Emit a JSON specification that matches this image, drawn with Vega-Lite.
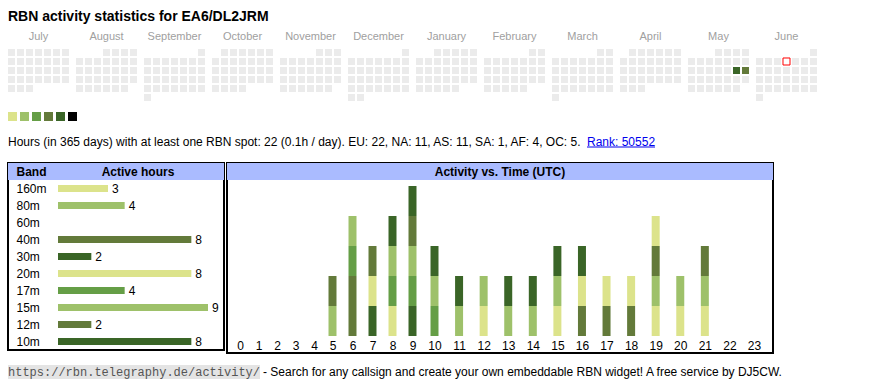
{
  "$schema": "https://vega.github.io/schema/vega-lite/v6.json",
  "background": "#ffffff",
  "padding": {"left": 7, "top": 0, "right": 0, "bottom": 0},
  "config": {"font": "Liberation Sans", "view": {"stroke": null}},
  "datasets": {
    "cal": [
      {"m":"July","w":0,"d":[0,1,2,3,4,5,6]},{"m":"July","w":1,"d":[0,1,2,3,4,5,6]},{"m":"July","w":2,"d":[0,1,2,3,4,5,6]},{"m":"July","w":3,"d":[0,1,2,3,4,5,6]},{"m":"July","w":4,"d":[0,1,2]},
      {"m":"August","w":0,"d":[3,4,5,6]},{"m":"August","w":1,"d":[0,1,2,3,4,5,6]},{"m":"August","w":2,"d":[0,1,2,3,4,5,6]},{"m":"August","w":3,"d":[0,1,2,3,4,5,6]},{"m":"August","w":4,"d":[0,1,2,3,4,5]},
      {"m":"September","w":0,"d":[6]},{"m":"September","w":1,"d":[0,1,2,3,4,5,6]},{"m":"September","w":2,"d":[0,1,2,3,4,5,6]},{"m":"September","w":3,"d":[0,1,2,3,4,5,6]},{"m":"September","w":4,"d":[0,1,2,3,4,5,6]},{"m":"September","w":5,"d":[0]},
      {"m":"October","w":0,"d":[1,2,3,4,5,6]},{"m":"October","w":1,"d":[0,1,2,3,4,5,6]},{"m":"October","w":2,"d":[0,1,2,3,4,5,6]},{"m":"October","w":3,"d":[0,1,2,3,4,5,6]},{"m":"October","w":4,"d":[0,1,2,3]},
      {"m":"November","w":0,"d":[4,5,6]},{"m":"November","w":1,"d":[0,1,2,3,4,5,6]},{"m":"November","w":2,"d":[0,1,2,3,4,5,6]},{"m":"November","w":3,"d":[0,1,2,3,4,5,6]},{"m":"November","w":4,"d":[0,1,2,3,4,5]},
      {"m":"December","w":0,"d":[6]},{"m":"December","w":1,"d":[0,1,2,3,4,5,6]},{"m":"December","w":2,"d":[0,1,2,3,4,5,6]},{"m":"December","w":3,"d":[0,1,2,3,4,5,6]},{"m":"December","w":4,"d":[0,1,2,3,4,5,6]},{"m":"December","w":5,"d":[0,1]},
      {"m":"January","w":0,"d":[2,3,4,5,6]},{"m":"January","w":1,"d":[0,1,2,3,4,5,6]},{"m":"January","w":2,"d":[0,1,2,3,4,5,6]},{"m":"January","w":3,"d":[0,1,2,3,4,5,6]},{"m":"January","w":4,"d":[0,1,2,3,4]},
      {"m":"February","w":0,"d":[5,6]},{"m":"February","w":1,"d":[0,1,2,3,4,5,6]},{"m":"February","w":2,"d":[0,1,2,3,4,5,6]},{"m":"February","w":3,"d":[0,1,2,3,4,5,6]},{"m":"February","w":4,"d":[0,1,2,3,4]},
      {"m":"March","w":0,"d":[5,6]},{"m":"March","w":1,"d":[0,1,2,3,4,5,6]},{"m":"March","w":2,"d":[0,1,2,3,4,5,6]},{"m":"March","w":3,"d":[0,1,2,3,4,5,6]},{"m":"March","w":4,"d":[0,1,2,3,4,5,6]},{"m":"March","w":5,"d":[0]},
      {"m":"April","w":0,"d":[1,2,3,4,5,6]},{"m":"April","w":1,"d":[0,1,2,3,4,5,6]},{"m":"April","w":2,"d":[0,1,2,3,4,5,6]},{"m":"April","w":3,"d":[0,1,2,3,4,5,6]},{"m":"April","w":4,"d":[0,1,2]},
      {"m":"May","w":0,"d":[3,4,5,6]},{"m":"May","w":1,"d":[0,1,2,3,4,5,6]},{"m":"May","w":2,"d":[0,1,2,3,4,5,6]},{"m":"May","w":3,"d":[0,1,2,3,4,5,6]},{"m":"May","w":4,"d":[0,1,2,3,4,5]},
      {"m":"June","w":0,"d":[6]},{"m":"June","w":1,"d":[0,1,2,3,4,5,6]},{"m":"June","w":2,"d":[0,1,2,3,4,5,6]},{"m":"June","w":3,"d":[0,1,2,3,4,5,6]},{"m":"June","w":4,"d":[0,1,2,3,4,5,6]},{"m":"June","w":5,"d":[0]}
    ],
    "calact": [
      {"m":"May","w":2,"d":5,"lv":4},
      {"m":"May","w":2,"d":6,"lv":3}
    ],
    "today": [{"m":"June","w":1,"d":3}],
    "bands": [
      {"b":"160m","n":3},{"b":"80m","n":4},{"b":"40m","n":8},{"b":"30m","n":2},{"b":"20m","n":8},
      {"b":"17m","n":4},{"b":"15m","n":9},{"b":"12m","n":2},{"b":"10m","n":8}
    ],
    "act": [
      {"h":5,"b":"15m","o":0},{"h":5,"b":"40m","o":1},
      {"h":6,"b":"40m","o":0},{"h":6,"b":"12m","o":1},{"h":6,"b":"17m","o":2},{"h":6,"b":"15m","o":3},
      {"h":7,"b":"30m","o":0},{"h":7,"b":"20m","o":1},{"h":7,"b":"40m","o":2},
      {"h":8,"b":"20m","o":0},{"h":8,"b":"17m","o":1},{"h":8,"b":"15m","o":2},{"h":8,"b":"10m","o":3},
      {"h":9,"b":"30m","o":0},{"h":9,"b":"17m","o":1},{"h":9,"b":"15m","o":2},{"h":9,"b":"12m","o":3},{"h":9,"b":"10m","o":4},
      {"h":10,"b":"17m","o":0},{"h":10,"b":"15m","o":1},{"h":10,"b":"10m","o":2},
      {"h":11,"b":"15m","o":0},{"h":11,"b":"10m","o":1},
      {"h":12,"b":"160m","o":0},{"h":12,"b":"80m","o":1},
      {"h":13,"b":"15m","o":0},{"h":13,"b":"10m","o":1},
      {"h":14,"b":"15m","o":0},{"h":14,"b":"10m","o":1},
      {"h":15,"b":"20m","o":0},{"h":15,"b":"15m","o":1},{"h":15,"b":"10m","o":2},
      {"h":16,"b":"40m","o":0},{"h":16,"b":"20m","o":1},{"h":16,"b":"10m","o":2},
      {"h":17,"b":"40m","o":0},{"h":17,"b":"20m","o":1},
      {"h":18,"b":"40m","o":0},{"h":18,"b":"20m","o":1},
      {"h":19,"b":"20m","o":0},{"h":19,"b":"80m","o":1},{"h":19,"b":"40m","o":2},{"h":19,"b":"160m","o":3},
      {"h":20,"b":"160m","o":0},{"h":20,"b":"80m","o":1},
      {"h":21,"b":"20m","o":0},{"h":21,"b":"80m","o":1},{"h":21,"b":"40m","o":2}
    ]
  },
  "spacing": 15,
  "bounds": "flush",
  "resolve": {"scale": {"color": "independent"}},
  "vconcat": [
    {
      "width": 300, "height": 34,
      "data": {"values": [{"t": "RBN activity statistics for EA6/DL2JRM"}]},
      "mark": {"type": "text", "align": "left", "baseline": "middle", "fontSize": 14, "fontWeight": "bold", "color": "#000000"},
      "encoding": {"text": {"field": "t", "type": "nominal"}, "x": {"value": 0}}
    },
    {
      "spacing": 11, "bounds": "flush",
      "resolve": {"scale": {"color": "independent"}},
      "vconcat": [
        {
          "width": 809, "height": 52,
          "encoding": {
            "x": {"field": "m", "type": "ordinal",
                  "sort": ["July","August","September","October","November","December","January","February","March","April","May","June"],
                  "scale": {"domain": ["July","August","September","October","November","December","January","February","March","April","May","June"], "paddingInner": 0.10294, "paddingOuter": 0},
                  "axis": {"orient": "top", "title": null, "ticks": false, "tickSize": 0, "domain": false, "labelAngle": 0, "labelFontSize": 11, "labelColor": "#a0a0a0", "labelPadding": 8}},
            "xOffset": {"field": "d", "type": "ordinal", "scale": {"domain": [0,1,2,3,4,5,6], "paddingInner": 0.2222, "paddingOuter": 0}},
            "y": {"field": "w", "type": "ordinal", "scale": {"domain": [0,1,2,3,4,5], "paddingInner": 0.2222, "paddingOuter": 0}, "axis": null}
          },
          "layer": [
            {"data": {"name": "cal"}, "transform": [{"flatten": ["d"]}], "mark": {"type": "rect", "color": "#ebebeb"}},
            {"data": {"name": "calact"}, "mark": {"type": "rect"},
             "encoding": {"color": {"field": "lv", "type": "ordinal", "scale": {"domain": [0,1,2,3,4,5], "range": ["#dce38b","#9ec16a","#659e46","#637a3a","#3a6527","#000000"]}, "legend": null}}},
            {"data": {"name": "today"}, "mark": {"type": "rect", "fill": "#ffffff", "stroke": "#ff0000", "strokeWidth": 1}}
          ]
        },
        {
          "spacing": 15, "bounds": "flush",
          "resolve": {"scale": {"color": "independent"}},
          "vconcat": [
            {
              "width": 69, "height": 9,
              "data": {"values": [{"lv":0},{"lv":1},{"lv":2},{"lv":3},{"lv":4},{"lv":5}]},
              "mark": "rect",
              "encoding": {
                "x": {"field": "lv", "type": "ordinal", "scale": {"paddingInner": 0.25, "paddingOuter": 0}, "axis": null},
                "color": {"field": "lv", "type": "ordinal", "scale": {"domain": [0,1,2,3,4,5], "range": ["#dce38b","#9ec16a","#659e46","#637a3a","#3a6527","#000000"]}, "legend": null}
              }
            },
            {
              "width": 660, "height": 12,
              "layer": [
                {"data": {"values": [{"t": "Hours (in 365 days) with at least one RBN spot: 22 (0.1h / day). EU: 22, NA: 11, AS: 11, SA: 1, AF: 4, OC: 5."}]},
                 "mark": {"type": "text", "align": "left", "baseline": "middle", "fontSize": 12, "color": "#000000"},
                 "encoding": {"text": {"field": "t", "type": "nominal"}, "x": {"value": 0}}},
                {"data": {"values": [{"t": "Rank: 50552"}]},
                 "mark": {"type": "text", "align": "left", "baseline": "middle", "fontSize": 12, "color": "#0000ee"},
                 "encoding": {"text": {"field": "t", "type": "nominal"}, "x": {"value": 579}}},
                {"data": {"values": [{}]},
                 "mark": {"type": "rule", "color": "#0000ee", "strokeWidth": 1},
                 "encoding": {"x": {"value": 579}, "x2": {"value": 647}, "y": {"value": 11}}}
              ]
            },
            {
              "spacing": 11, "bounds": "full",
              "resolve": {"scale": {"color": "independent"}},
              "vconcat": [
                {
                  "spacing": 3, "bounds": "flush",
                  "hconcat": [
                    {
                      "width": 216, "height": 187,
                      "view": {"stroke": "#000000", "strokeWidth": 2},
                      "encoding": {
                        "y": {"field": "b", "type": "nominal",
                              "scale": {"domain": ["Band","160m","80m","60m","40m","30m","20m","17m","15m","12m","10m"], "paddingInner": 0, "paddingOuter": 0},
                              "axis": {"orient": "left", "title": null, "ticks": false, "tickSize": 0, "domain": false, "offset": -8, "labelPadding": 0, "labelAlign": "left", "labelFontSize": 12, "labelColor": "#000000", "labelFontWeight": {"condition": {"test": "datum.value === 'Band'", "value": "bold"}, "value": "normal"}, "zindex": 1}}
                      },
                      "layer": [
                        {"data": {"values": [{"b": "Band"}]}, "mark": {"type": "rect", "color": "#aabbff"}},
                        {"data": {"values": [{"b": "Band", "t": "Active hours"}]},
                         "mark": {"type": "text", "align": "center", "baseline": "middle", "fontSize": 12, "fontWeight": "bold", "color": "#000000"},
                         "encoding": {"x": {"value": 130}, "text": {"field": "t", "type": "nominal"}}},
                        {"data": {"name": "bands"}, "mark": {"type": "bar", "height": 7},
                         "encoding": {
                           "x": {"field": "n", "type": "quantitative", "scale": {"domain": [0, 9], "range": [50, 200]}, "axis": null},
                           "color": {"field": "b", "type": "nominal", "scale": {"domain": ["160m","80m","60m","40m","30m","20m","17m","15m","12m","10m"], "range": ["#dce38b","#9ec16a","#659e46","#637a3a","#3a6527","#dce38b","#659e46","#9ec16a","#637a3a","#3a6527"]}, "legend": null}
                         }},
                        {"data": {"name": "bands"},
                         "mark": {"type": "text", "align": "left", "baseline": "middle", "dx": 4, "fontSize": 12, "color": "#000000"},
                         "encoding": {"x": {"field": "n", "type": "quantitative"}, "text": {"field": "n", "type": "quantitative"}}}
                      ]
                    },
                    {
                      "width": 546, "height": 190,
                      "view": {"stroke": "#000000", "strokeWidth": 2},
                      "layer": [
                        {"data": {"values": [{}]}, "mark": {"type": "rect", "color": "#aabbff"},
                         "encoding": {"y": {"value": 0}, "y2": {"value": 17}}},
                        {"data": {"values": [{"t": "Activity vs. Time (UTC)"}]},
                         "mark": {"type": "text", "align": "center", "baseline": "middle", "fontSize": 12, "fontWeight": "bold", "color": "#000000"},
                         "encoding": {"text": {"field": "t", "type": "nominal"}, "y": {"value": 9}}},
                        {"data": {"name": "act"}, "mark": {"type": "bar", "width": 8},
                         "encoding": {
                           "x": {"field": "h", "type": "quantitative",
                                 "scale": {"domain": [0, 5, 9, 10, 23], "range": [9, 105.5, 185.5, 207.5, 532.5], "nice": false, "zero": false},
                                 "axis": {"orient": "bottom", "values": [0,1,2,3,4,5,6,7,8,9,10,11,12,13,14,15,16,17,18,19,20,21,22,23], "format": "d", "title": null, "ticks": false, "tickSize": 0, "domain": false, "grid": false, "offset": -15, "labelPadding": 2, "labelFontSize": 12, "labelColor": "#000000", "labelFlush": false, "labelOverlap": false}},
                           "y": {"aggregate": "count", "type": "quantitative", "scale": {"domain": [0, 5], "range": [173, 23], "nice": false}, "axis": null},
                           "color": {"field": "b", "type": "nominal", "scale": {"domain": ["160m","80m","60m","40m","30m","20m","17m","15m","12m","10m"], "range": ["#dce38b","#9ec16a","#659e46","#637a3a","#3a6527","#dce38b","#659e46","#9ec16a","#637a3a","#3a6527"]}, "legend": null},
                           "order": {"field": "o", "type": "quantitative"}
                         }}
                      ]
                    }
                  ]
                },
                {
                  "spacing": 3, "bounds": "flush",
                  "hconcat": [
                    {
                      "width": 252, "height": 14,
                      "view": {"fill": "#e4e4e4", "stroke": null},
                      "data": {"values": [{"t": "https://rbn.telegraphy.de/activity/"}]},
                      "mark": {"type": "text", "align": "center", "baseline": "middle", "font": "Liberation Mono", "fontSize": 12, "color": "#555555"},
                      "encoding": {"text": {"field": "t", "type": "nominal"}}
                    },
                    {
                      "width": 530, "height": 14,
                      "data": {"values": [{"t": "- Search for any callsign and create your own embeddable RBN widget! A free service by DJ5CW."}]},
                      "mark": {"type": "text", "align": "left", "baseline": "middle", "fontSize": 12, "color": "#000000"},
                      "encoding": {"text": {"field": "t", "type": "nominal"}, "x": {"value": 0}}
                    }
                  ]
                }
              ]
            }
          ]
        }
      ]
    }
  ]
}
